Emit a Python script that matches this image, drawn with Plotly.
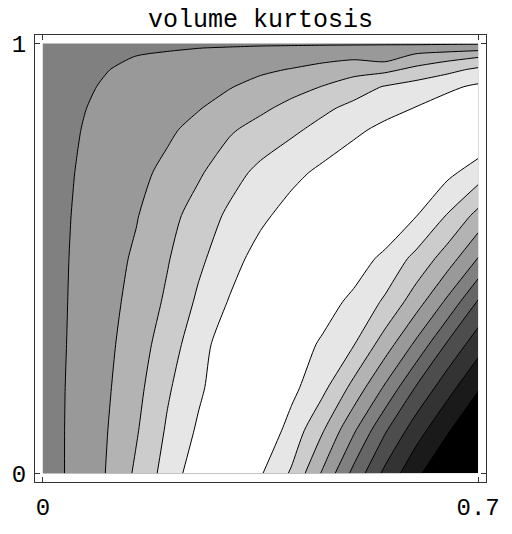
import plotly.graph_objects as go

# Grid coordinates (x: first parameter 0..0.7, y: second parameter 0..1)
x_vals = [0.0, 0.05, 0.10, 0.15, 0.20, 0.25, 0.30, 0.35, 0.40, 0.45, 0.50, 0.55, 0.60, 0.65, 0.70]
y_vals = [0.0, 0.1, 0.2, 0.3, 0.4, 0.5, 0.6, 0.7, 0.8, 0.85, 0.9, 0.94, 0.97, 0.99, 1.0]

# Estimated surface values (one list per y row)
z_y000 = [5.47, 6.23, 6.99, 8.16, 9.40, 10.60, 10.90, 10.10, 8.87, 6.87, 4.70, 2.76, 1.24, 0.00, -1.20]
z_y010 = [5.51, 6.21, 6.91, 7.90, 9.12, 10.14, 11.14, 10.77, 9.64, 8.08, 6.14, 4.13, 2.45, 1.13, -0.07]
z_y020 = [5.54, 6.18, 6.82, 7.69, 8.86, 9.81, 10.72, 11.20, 10.26, 9.27, 7.69, 5.87, 3.94, 2.39, 1.11]
z_y030 = [5.55, 6.14, 6.74, 7.50, 8.51, 9.58, 10.60, 11.40, 10.62, 9.83, 9.04, 7.52, 5.79, 3.89, 2.40]
z_y040 = [5.56, 6.11, 6.66, 7.31, 8.16, 9.16, 10.06, 10.97, 11.30, 10.52, 9.72, 8.87, 7.48, 5.82, 3.92]
z_y050 = [5.58, 6.08, 6.59, 7.14, 7.92, 8.79, 9.60, 10.39, 11.18, 11.50, 10.64, 9.70, 8.74, 7.53, 5.96]
z_y060 = [5.60, 6.04, 6.49, 6.94, 7.64, 8.43, 9.18, 9.79, 10.39, 10.99, 11.50, 11.13, 10.04, 8.95, 7.69]
z_y070 = [5.62, 5.99, 6.38, 6.75, 7.22, 7.86, 8.61, 9.25, 9.73, 10.22, 10.70, 11.19, 10.99, 10.25, 9.51]
z_y080 = [5.63, 5.93, 6.24, 6.54, 6.84, 7.28, 7.87, 8.36, 8.82, 9.29, 9.78, 10.26, 10.75, 10.95, 11.00]
z_y085 = [5.63, 5.89, 6.16, 6.42, 6.69, 6.95, 7.36, 7.81, 8.29, 8.81, 9.25, 9.64, 10.04, 10.45, 10.90]
z_y090 = [5.61, 5.84, 6.06, 6.28, 6.50, 6.72, 6.95, 7.28, 7.65, 8.03, 8.56, 9.06, 9.43, 9.80, 10.17]
z_y094 = [5.62, 5.80, 5.97, 6.15, 6.32, 6.50, 6.67, 6.85, 7.04, 7.31, 7.59, 7.75, 8.24, 8.71, 9.18]
z_y097 = [5.66, 5.77, 5.89, 6.01, 6.12, 6.23, 6.35, 6.46, 6.58, 6.70, 6.81, 6.50, 7.30, 7.60, 7.92]
z_y099 = [5.60, 5.68, 5.76, 5.84, 5.92, 5.99, 6.06, 6.12, 6.18, 6.24, 6.30, 6.35, 6.40, 6.50, 6.60]
z_y100 = [5.50, 5.55, 5.60, 5.65, 5.70, 5.75, 5.80, 5.86, 5.86, 5.87, 5.87, 5.88, 5.88, 5.90, 5.93]

z_rows = [z_y000, z_y010, z_y020, z_y030, z_y040, z_y050, z_y060, z_y070,
          z_y080, z_y085, z_y090, z_y094, z_y097, z_y099, z_y100]

x_tick_vals = [0, 0.7]
x_tick_text = ["0", "0.7"]
y_tick_vals = [0, 1]
y_tick_text = ["0", "1"]
title_text = "volume kurtosis"

MONO = "Courier New, Liberation Mono, monospace"
FRAME = "#333333"

fig = go.Figure(
    go.Contour(
        x=x_vals, y=y_vals, z=z_rows,
        autocontour=False,
        contours=dict(start=1, end=10, size=1, coloring="fill"),
        colorscale=[[0, "rgb(0,0,0)"], [1, "rgb(255,255,255)"]],
        showscale=False,
        line=dict(color="black", width=1, smoothing=0.7),
        hoverinfo="skip",
    )
)

axis_common = dict(
    showgrid=False, zeroline=False, showline=True, linecolor=FRAME, linewidth=1,
    mirror="ticks", ticks="inside", ticklen=5, tickwidth=1, tickcolor=FRAME,
    tickfont=dict(family=MONO, size=24, color="black"),
)

fig.update_layout(
    width=512, height=534,
    margin=dict(l=33, r=18, t=35, b=37),
    paper_bgcolor="white", plot_bgcolor="white",
    xaxis=dict(range=[-0.0126, 0.7126], tickvals=x_tick_vals, ticktext=x_tick_text,
               ticklabelstandoff=3, **axis_common),
    yaxis=dict(range=[-0.0203, 1.0203], tickvals=y_tick_vals, ticktext=y_tick_text,
               ticklabelstandoff=3, **axis_common),
    showlegend=False,
    annotations=[dict(text=title_text, xref="paper", yref="paper", x=0.5, y=1.032,
                      xanchor="center", yanchor="middle", showarrow=False,
                      font=dict(family=MONO, size=25, color="black"))],
)

fig.write_html("out.html")
